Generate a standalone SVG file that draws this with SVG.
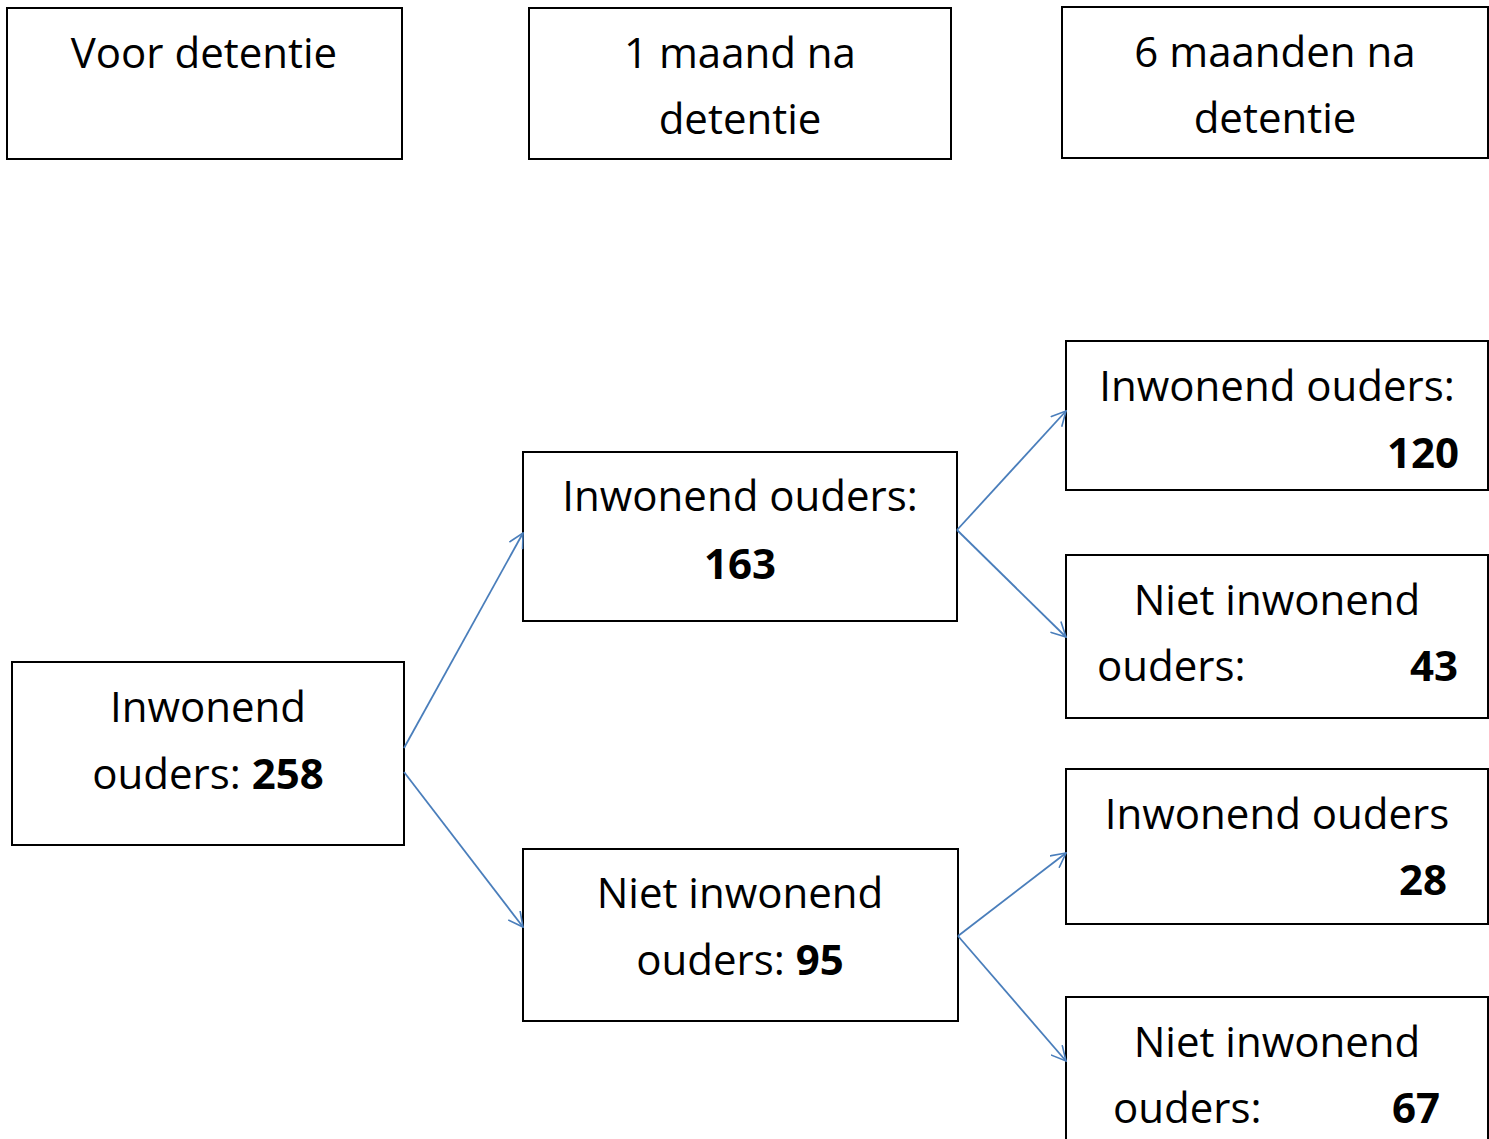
<svg xmlns="http://www.w3.org/2000/svg" width="1489" height="1139" viewBox="0 0 1489 1139">
<style>
.box{fill:#fff;stroke:#000;stroke-width:2}
.t{font-family:"Open Sans","Noto Sans",sans-serif;font-size:42px;fill:#000}
.c{text-anchor:middle}
.e{text-anchor:end}
.b{font-weight:bold}
.conn{stroke:#4a7ebb;stroke-width:1.8;fill:none;marker-end:url(#arr)}
</style>
<defs>
<marker id="arr" viewBox="0 0 16 16" refX="15" refY="8" markerWidth="16" markerHeight="16" markerUnits="userSpaceOnUse" orient="auto">
<path d="M0.5,0.5 L15,8 L0.5,15.5" fill="none" stroke="#4a7ebb" stroke-width="1.6"/>
</marker>
</defs>
<rect width="1489" height="1139" fill="#fff"/>
<g id="voor"><rect class="box" x="7" y="8" width="395" height="151"/><text class="t c" x="204" y="68">Voor detentie</text></g>
<g id="maand1"><rect class="box" x="529" y="8" width="422" height="151"/><text class="t c" x="740" y="68">1 maand na</text><text class="t c" x="740" y="134">detentie</text></g>
<g id="maand6"><rect class="box" x="1062" y="7" width="426" height="151"/><text class="t c" x="1275" y="67">6 maanden na</text><text class="t c" x="1275" y="133">detentie</text></g>
<g id="n258"><rect class="box" x="12" y="662" width="392" height="183"/><text class="t c" x="208" y="722">Inwonend</text><text class="t c" x="208" y="789">ouders: <tspan class="b">258</tspan></text></g>
<g id="n163"><rect class="box" x="523" y="452" width="434" height="169"/><text class="t c" x="740" y="511">Inwonend ouders:</text><text class="t c b" x="740" y="579">163</text></g>
<g id="n95"><rect class="box" x="523" y="849" width="435" height="172"/><text class="t c" x="740" y="908">Niet inwonend</text><text class="t c" x="740" y="975">ouders: <tspan class="b">95</tspan></text></g>
<g id="n120"><rect class="box" x="1066" y="341" width="422" height="149"/><text class="t c" x="1277" y="401">Inwonend ouders:</text><text class="t e b" x="1459" y="468">120</text></g>
<g id="n43"><rect class="box" x="1066" y="555" width="422" height="163"/><text class="t c" x="1277" y="615">Niet inwonend</text><text class="t" x="1097" y="681">ouders:</text><text class="t e b" x="1458" y="681">43</text></g>
<g id="n28"><rect class="box" x="1066" y="769" width="422" height="155"/><text class="t c" x="1277" y="829">Inwonend ouders</text><text class="t e b" x="1447" y="895">28</text></g>
<g id="n67"><rect class="box" x="1066" y="997" width="422" height="160"/><text class="t c" x="1277" y="1057">Niet inwonend</text><text class="t" x="1113" y="1123">ouders:</text><text class="t e b" x="1440" y="1123">67</text></g>
<g id="connectors">
<line class="conn" x1="404" y1="748" x2="523" y2="533"/>
<line class="conn" x1="404" y1="772" x2="523" y2="927"/>
<line class="conn" x1="957" y1="530" x2="1066" y2="411"/>
<line class="conn" x1="957" y1="530" x2="1066" y2="637"/>
<line class="conn" x1="958" y1="936" x2="1066" y2="853"/>
<line class="conn" x1="958" y1="936" x2="1066" y2="1061"/>
</g>
</svg>
